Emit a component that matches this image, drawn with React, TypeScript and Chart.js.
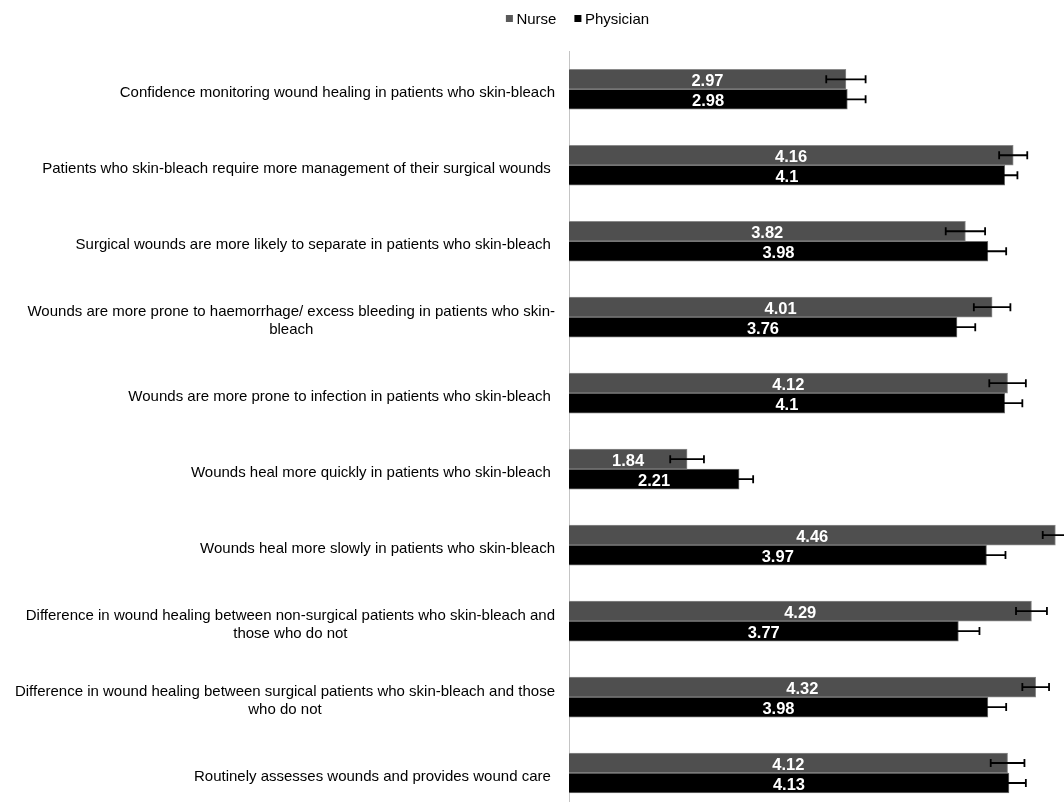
import React, { useEffect, useRef } from "react";
import { Chart, registerables } from "chart.js";

Chart.register(...registerables);

// Survey statements (multi-line entries are wrapped the way they are printed)
const categories: (string | string[])[] = [
  "Confidence monitoring wound healing in patients who skin-bleach",
  "Patients who skin-bleach require more management of their surgical wounds ",
  "Surgical wounds are more likely to separate in patients who skin-bleach ",
  ["Wounds are more prone to haemorrhage/ excess bleeding in patients who skin-", "bleach"],
  "Wounds are more prone to infection in patients who skin-bleach ",
  "Wounds heal more quickly in patients who skin-bleach ",
  "Wounds heal more slowly in patients who skin-bleach",
  ["Difference in wound healing between non-surgical patients who skin-bleach and", "those who do not"],
  ["Difference in wound healing between surgical patients who skin-bleach and those", "who do not"],
  "Routinely assesses wounds and provides wound care ",
];

const seriesNames = ["Nurse", "Physician"];

// Mean scores and their error margins
const nurseMeans = [2.97, 4.16, 3.82, 4.01, 4.12, 1.84, 4.46, 4.29, 4.32, 4.12];
const nurseErrors = [0.14, 0.1, 0.14, 0.13, 0.13, 0.12, 0.09, 0.11, 0.095, 0.12];
const physicianMeans = [2.98, 4.1, 3.98, 3.76, 4.1, 2.21, 3.97, 3.77, 3.98, 4.13];
const physicianErrors = [0.13, 0.09, 0.13, 0.13, 0.125, 0.1, 0.135, 0.15, 0.13, 0.12];

const axisMin = 1;
const axisMax = 4.5;

const FONT = '"Liberation Sans", Arial, Helvetica, sans-serif';

const errorBarPlugin = {
  id: "errorBars",
  afterDatasetsDraw(chart: any) {
    const { ctx } = chart;
    const xScale = chart.scales.x;
    chart.data.datasets.forEach((ds: any, di: number) => {
      const meta = chart.getDatasetMeta(di);
      const errs: number[] = ds.errors || [];
      meta.data.forEach((bar: any, i: number) => {
        const v = ds.data[i] as number;
        const e = errs[i] ?? 0;
        const x1 = xScale.getPixelForValue(v - e);
        const x2 = xScale.getPixelForValue(v + e);
        const y = bar.y;
        ctx.save();
        ctx.strokeStyle = "#000";
        ctx.lineWidth = 1.8;
        ctx.beginPath();
        ctx.moveTo(x1, y);
        ctx.lineTo(x2, y);
        ctx.moveTo(x1, y - 4);
        ctx.lineTo(x1, y + 4);
        ctx.moveTo(x2, y - 4);
        ctx.lineTo(x2, y + 4);
        ctx.stroke();
        ctx.restore();
      });
    });
  },
};

const valueLabelPlugin = {
  id: "valueLabels",
  afterDatasetsDraw(chart: any) {
    const { ctx } = chart;
    chart.data.datasets.forEach((ds: any, di: number) => {
      const meta = chart.getDatasetMeta(di);
      meta.data.forEach((bar: any, i: number) => {
        const cx = (bar.base + bar.x) / 2;
        ctx.save();
        ctx.font = `bold 16.5px ${FONT}`;
        ctx.fillStyle = "#ffffff";
        ctx.textAlign = "center";
        ctx.textBaseline = "alphabetic";
        ctx.fillText(String(ds.data[i]), cx, bar.y + 6.7);
        ctx.restore();
      });
    });
  },
};

const categoryLabelPlugin = {
  id: "categoryLabels",
  afterDraw(chart: any) {
    const { ctx, chartArea } = chart;
    const yScale = chart.scales.y;
    const right = chartArea.left - 14;
    const lineHeight = 18.5;
    ctx.save();
    ctx.font = `15px ${FONT}`;
    ctx.fillStyle = "#000";
    ctx.textAlign = "center";
    ctx.textBaseline = "alphabetic";
    (chart.data.labels as (string | string[])[]).forEach((label, i) => {
      const lines = Array.isArray(label) ? label : [label];
      const blockW = Math.max(...lines.map((l) => ctx.measureText(l).width));
      const cx = right - blockW / 2;
      const cy = yScale.getPixelForValue(i);
      lines.forEach((line, j) => {
        const ly = cy + 8 + (j - (lines.length - 1) / 2) * lineHeight;
        ctx.fillText(line, cx, ly);
      });
    });
    ctx.restore();
  },
};

const legendPlugin = {
  id: "topLegend",
  afterDraw(chart: any, _args: any, opts: any) {
    const { ctx } = chart;
    const box = 7;
    const gap = 3.5;
    const itemGap = 18;
    ctx.save();
    ctx.font = `15px ${FONT}`;
    const items = chart.data.datasets.map((ds: any) => ({
      text: ds.label as string,
      color: ds.legendColor as string,
      w: ctx.measureText(ds.label).width,
    }));
    const total =
      items.reduce((s: number, it: any) => s + box + gap + it.w, 0) + itemGap * (items.length - 1);
    let x = opts.centerX - total / 2;
    const y = opts.centerY;
    items.forEach((it: any) => {
      ctx.fillStyle = it.color;
      ctx.fillRect(x, y - box / 2, box, box);
      ctx.fillStyle = "#000";
      ctx.textAlign = "left";
      ctx.textBaseline = "alphabetic";
      ctx.fillText(it.text, x + box + gap, y + 5.4);
      x += box + gap + it.w + itemGap;
    });
    ctx.restore();
  },
};

export default function App() {
  const canvasRef = useRef<HTMLCanvasElement>(null);

  useEffect(() => {
    if (!canvasRef.current) return;
    const chart = new Chart(canvasRef.current, {
      type: "bar",
      data: {
        labels: categories,
        datasets: [
          {
            label: seriesNames[0],
            data: nurseMeans,
            errors: nurseErrors,
            base: axisMin,
            backgroundColor: "#4f4f4f",
            legendColor: "#5a5a5a",
            borderColor: "#8a8a8a",
            borderWidth: 1,
          } as any,
          {
            label: seriesNames[1],
            data: physicianMeans,
            errors: physicianErrors,
            base: axisMin,
            backgroundColor: "#000000",
            legendColor: "#000000",
            borderColor: "#6e6e6e",
            borderWidth: 1,
          } as any,
        ],
      },
      options: {
        indexAxis: "y",
        responsive: false,
        animation: false,
        devicePixelRatio: 1,
        events: [],
        barThickness: 20,
        layout: { padding: { top: 51.3, right: 3, bottom: 0, left: 0 } },
        scales: {
          x: { type: "linear", min: axisMin, max: axisMax, display: false },
          y: {
            display: true,
            grid: { display: false },
            ticks: { display: false },
            border: { display: true, color: "#c4c4c4", width: 1 },
            afterFit: (scale: any) => {
              scale.width = 569;
            },
          },
        },
        plugins: {
          legend: { display: false },
          tooltip: { enabled: false },
          topLegend: { centerX: 577.5, centerY: 18.5 },
        } as any,
      } as any,
      plugins: [errorBarPlugin, valueLabelPlugin, categoryLabelPlugin, legendPlugin],
    });
    return () => chart.destroy();
  }, []);

  return (
    <div
      style={{
        position: "fixed",
        left: 0,
        top: 0,
        width: 1064,
        height: 802,
        overflow: "hidden",
        background: "#ffffff",
      }}
    >
      <canvas ref={canvasRef} width={1064} height={811} style={{ display: "block" }} />
    </div>
  );
}
